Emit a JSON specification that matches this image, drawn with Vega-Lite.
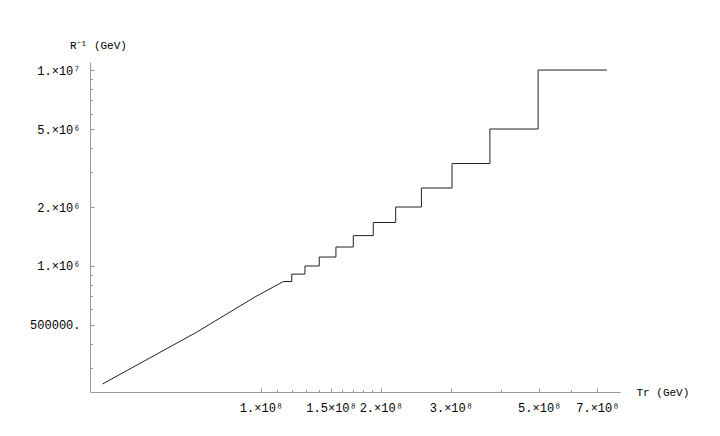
{
  "$schema": "https://vega.github.io/schema/vega-lite/v6.json",
  "width": 530,
  "height": 330,
  "autosize": "none",
  "padding": {"left": 90, "top": 62, "right": 100, "bottom": 44},
  "background": "white",
  "config": {
    "view": {"stroke": null},
    "axis": {
      "grid": false,
      "labelFont": "Liberation Mono",
      "titleFont": "Liberation Mono",
      "labelFontSize": 12,
      "titleFontSize": 11,
      "titleFontWeight": "normal",
      "labelColor": "#000",
      "titleColor": "#000",
      "domainColor": "#999",
      "tickColor": "#999",
      "labelOverlap": false,
      "labelFlush": false,
      "labelBound": false
    }
  },
  "data": {
    "values": [
      {"i": 0, "Tr": 4.0e7, "Rinv": 2.5e5},
      {"i": 1, "Tr": 6.9e7, "Rinv": 4.6e5},
      {"i": 2, "Tr": 9.66e7, "Rinv": 6.95e5},
      {"i": 3, "Tr": 1.138e8, "Rinv": 8.33e5},
      {"i": 4, "Tr": 1.195e8, "Rinv": 8.33e5},
      {"i": 5, "Tr": 1.195e8, "Rinv": 9.09e5},
      {"i": 6, "Tr": 1.29e8, "Rinv": 9.09e5},
      {"i": 7, "Tr": 1.29e8, "Rinv": 1.0e6},
      {"i": 8, "Tr": 1.401e8, "Rinv": 1.0e6},
      {"i": 9, "Tr": 1.401e8, "Rinv": 1.111e6},
      {"i": 10, "Tr": 1.543e8, "Rinv": 1.111e6},
      {"i": 11, "Tr": 1.543e8, "Rinv": 1.25e6},
      {"i": 12, "Tr": 1.706e8, "Rinv": 1.25e6},
      {"i": 13, "Tr": 1.706e8, "Rinv": 1.429e6},
      {"i": 14, "Tr": 1.915e8, "Rinv": 1.429e6},
      {"i": 15, "Tr": 1.915e8, "Rinv": 1.667e6},
      {"i": 16, "Tr": 2.18e8, "Rinv": 1.667e6},
      {"i": 17, "Tr": 2.18e8, "Rinv": 2.0e6},
      {"i": 18, "Tr": 2.53e8, "Rinv": 2.0e6},
      {"i": 19, "Tr": 2.53e8, "Rinv": 2.5e6},
      {"i": 20, "Tr": 3.02e8, "Rinv": 2.5e6},
      {"i": 21, "Tr": 3.02e8, "Rinv": 3.333e6},
      {"i": 22, "Tr": 3.76e8, "Rinv": 3.333e6},
      {"i": 23, "Tr": 3.76e8, "Rinv": 5.0e6},
      {"i": 24, "Tr": 4.97e8, "Rinv": 5.0e6},
      {"i": 25, "Tr": 4.97e8, "Rinv": 1.0e7},
      {"i": 26, "Tr": 7.4e8, "Rinv": 1.0e7}
    ]
  },
  "layer": [
    {
      "mark": {"type": "line", "color": "#222", "strokeWidth": 1},
      "encoding": {
        "x": {
          "field": "Tr",
          "type": "quantitative",
          "scale": {"type": "log", "domain": [3.72e7, 7.98e8], "nice": false, "zero": false},
          "axis": {
            "orient": "bottom",
            "values": [1e8, 1.5e8, 2e8, 3e8, 5e8, 7e8],
            "labelExpr": "datum.value < 1.2e8 ? '1.×10⁸' : datum.value < 1.7e8 ? '1.5×10⁸' : datum.value < 2.5e8 ? '2.×10⁸' : datum.value < 4e8 ? '3.×10⁸' : datum.value < 6e8 ? '5.×10⁸' : '7.×10⁸'",
            "tickSize": -4,
            "labelPadding": 14,
            "title": "Tr (GeV)",
            "titleX": 546,
            "titleY": 0,
            "titleAlign": "left",
            "titleBaseline": "middle",
            "titleAngle": 0
          }
        },
        "y": {
          "field": "Rinv",
          "type": "quantitative",
          "scale": {"type": "log", "domain": [2.275e5, 1.099e7], "nice": false, "zero": false},
          "axis": {
            "orient": "left",
            "values": [5e5, 1e6, 2e6, 5e6, 1e7],
            "labelExpr": "datum.value < 7e5 ? '500000.' : datum.value < 1.5e6 ? '1.×10⁶' : datum.value < 3e6 ? '2.×10⁶' : datum.value < 7e6 ? '5.×10⁶' : '1.×10⁷'",
            "tickSize": -4,
            "labelPadding": 14,
            "title": "R⁻¹ (GeV)",
            "titleX": 8,
            "titleY": -17,
            "titleAlign": "center",
            "titleBaseline": "middle",
            "titleAngle": 0
          }
        },
        "order": {"field": "i", "type": "quantitative"}
      }
    },
    {
      "mark": {"type": "line", "opacity": 0},
      "encoding": {
        "x": {
          "field": "Tr",
          "type": "quantitative",
          "scale": {"type": "log", "domain": [3.72e7, 7.98e8], "nice": false, "zero": false},
          "axis": {
            "orient": "bottom",
            "values": [1.1e8, 1.2e8, 1.3e8, 1.4e8, 1.6e8, 1.7e8, 1.8e8, 1.9e8, 4e8, 6e8],
            "labels": false,
            "domain": false,
            "tickSize": -2.5,
            "title": null
          }
        },
        "y": {
          "field": "Rinv",
          "type": "quantitative",
          "scale": {"type": "log", "domain": [2.275e5, 1.099e7], "nice": false, "zero": false},
          "axis": {
            "orient": "left",
            "values": [3e5, 4e5, 6e5, 7e5, 8e5, 9e5, 3e6, 4e6, 6e6, 7e6, 8e6, 9e6],
            "labels": false,
            "domain": false,
            "tickSize": -2.5,
            "title": null
          }
        },
        "order": {"field": "i", "type": "quantitative"}
      }
    }
  ],
  "resolve": {"axis": {"x": "independent", "y": "independent"}}
}
